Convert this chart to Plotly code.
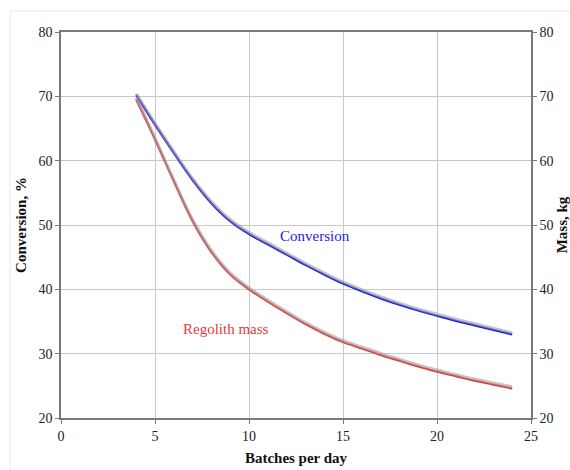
import plotly.graph_objects as go

# Batches per day and the two response curves
batches = [4, 5, 6, 7, 8, 9, 10, 11, 12, 13, 14, 15, 16, 17, 18, 19, 20, 21, 22, 23, 24]
conversion = [70.2, 65.6, 61.2, 57.0, 53.4, 50.6, 48.6, 47.0, 45.4, 43.8, 42.3, 40.9, 39.7, 38.6, 37.6, 36.7, 35.9, 35.1, 34.4, 33.7, 33.0]
regolith_mass = [69.5, 63.3, 56.8, 50.6, 45.8, 42.3, 40.0, 38.1, 36.3, 34.6, 33.1, 31.8, 30.8, 29.8, 28.9, 28.0, 27.2, 26.5, 25.8, 25.2, 24.6]

x_ticks = [0, 5, 10, 15, 20, 25]
y_ticks = [20, 30, 40, 50, 60, 70, 80]

serif = "Times New Roman, Liberation Serif, serif"
grid = "#c8c8c8"
axis_col = "#7a7a7a"
blue = "#1c1ce0"
red = "#e23a3a"

fig = go.Figure()

# soft drop shadow under each curve (same data on a slightly shifted overlay axis)
for ys in (conversion, regolith_mass):
    fig.add_trace(go.Scatter(x=batches, y=ys, mode="lines", yaxis="y3",
                             line=dict(color="rgba(160,160,160,0.6)", width=3, shape="spline", smoothing=1.0),
                             hoverinfo="skip", showlegend=False))

fig.add_trace(go.Scatter(x=batches, y=conversion, mode="lines", name="Conversion",
                         line=dict(color=blue, width=2.2, shape="spline", smoothing=1.0), showlegend=False))
fig.add_trace(go.Scatter(x=batches, y=regolith_mass, mode="lines", name="Regolith mass",
                         line=dict(color=red, width=2.2, shape="spline", smoothing=1.0), showlegend=False))
# invisible trace to enable the right-hand mass axis
fig.add_trace(go.Scatter(x=[batches[0]], y=[regolith_mass[0]], yaxis="y2", mode="markers",
                         marker=dict(opacity=0), hoverinfo="skip", showlegend=False))

tick_font = dict(family=serif, size=14, color="#222")
title_font = dict(family=serif, size=15, color="#111")

fig.update_layout(
    width=570, height=470,
    margin=dict(l=61, r=39, t=32, b=52),
    paper_bgcolor="white", plot_bgcolor="white",
    font=dict(family=serif, size=14, color="#222"),
    xaxis=dict(range=[0, 25], tickvals=x_ticks, showgrid=True, gridcolor=grid, gridwidth=1,
               showline=True, linecolor=axis_col, linewidth=1.5, mirror=True,
               ticks="outside", ticklen=4, tickcolor=axis_col, zeroline=False, automargin=False,
               tickfont=tick_font,
               title=dict(text="<b>Batches per day</b>", font=title_font, standoff=10)),
    yaxis=dict(range=[20, 80], tickvals=y_ticks, showgrid=True, gridcolor=grid, gridwidth=1,
               showline=True, linecolor=axis_col, linewidth=1.5,
               ticks="outside", ticklen=4, tickcolor=axis_col, zeroline=False, automargin=False,
               tickfont=tick_font,
               title=dict(text="<b>Conversion, %</b>", font=title_font, standoff=8)),
    yaxis2=dict(range=[20, 80], tickvals=y_ticks, overlaying="y", side="right", showgrid=False,
                showline=True, linecolor=axis_col, linewidth=1.5,
                ticks="outside", ticklen=4, tickcolor=axis_col, zeroline=False, automargin=False,
                tickfont=tick_font,
                title=dict(text="<b>Mass, kg</b>", font=title_font, standoff=6)),
    yaxis3=dict(range=[19.75, 79.75], overlaying="y", visible=False),
    annotations=[
        dict(x=13.5, y=48.3, xref="x", yref="y", text="Conversion", showarrow=False,
             font=dict(family=serif, size=15, color=blue)),
        dict(x=8.75, y=33.8, xref="x", yref="y", text="Regolith mass", showarrow=False,
             font=dict(family=serif, size=15, color=red)),
    ],
    shapes=[
        dict(type="rect", xref="paper", yref="paper", x0=-0.1085, x1=1.1, y0=-0.16, y1=1.0544,
             line=dict(color="#e8e8e8", width=1), fillcolor="rgba(0,0,0,0)", layer="below"),
    ],
)

fig.write_html("out.html")
